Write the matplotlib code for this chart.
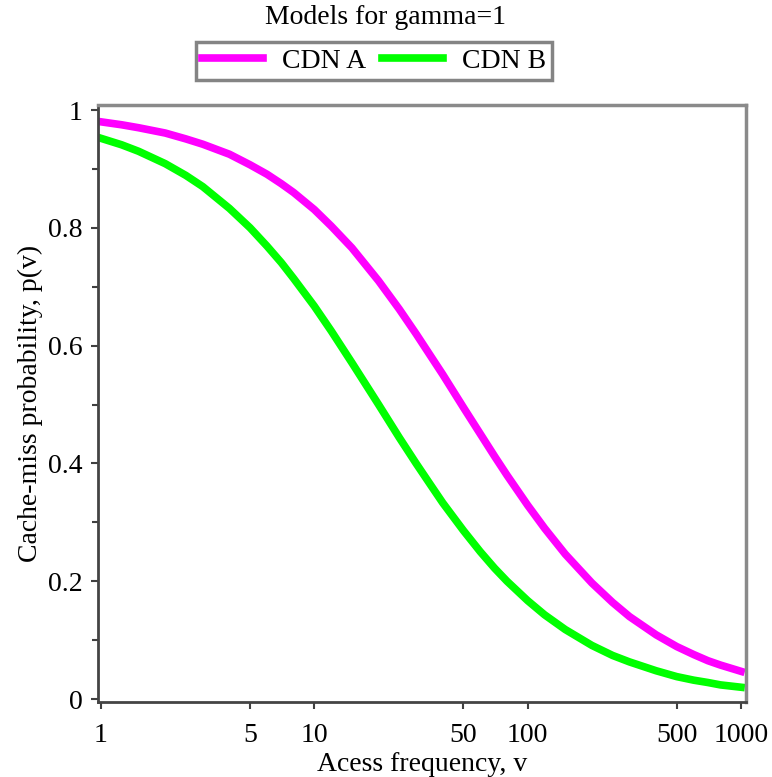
import matplotlib.pyplot as plt
from matplotlib.ticker import FixedLocator, NullLocator

plt.rcParams['font.family'] = ['Liberation Serif', 'DejaVu Serif']

# access frequency samples and miss probability for both CDNs
freq = [1, 1.25, 1.5, 2, 2.5, 3, 4, 5, 6, 7, 8, 10, 12, 15, 20, 25, 30, 35, 40, 50,
        60, 70, 80, 100, 120, 150, 200, 250, 300, 400, 500, 600, 700, 800, 1000]
cdn_a = [0.980, 0.975, 0.970, 0.961, 0.951, 0.942, 0.925, 0.907, 0.891, 0.875, 0.860,
         0.831, 0.803, 0.766, 0.710, 0.662, 0.620, 0.583, 0.551, 0.495, 0.450, 0.412,
         0.380, 0.329, 0.290, 0.246, 0.197, 0.164, 0.140, 0.109, 0.089, 0.0755, 0.065,
         0.0577, 0.047]
cdn_b = [0.952, 0.941, 0.930, 0.909, 0.889, 0.870, 0.833, 0.800, 0.769, 0.741, 0.714,
         0.667, 0.625, 0.571, 0.500, 0.444, 0.400, 0.364, 0.333, 0.286, 0.250, 0.222,
         0.200, 0.167, 0.143, 0.118, 0.091, 0.074, 0.063, 0.048, 0.038, 0.032, 0.028,
         0.024, 0.020]

x_ticks = [1, 5, 10, 50, 100, 500, 1000]
y_ticks = [0, 0.2, 0.4, 0.6, 0.8, 1]
y_labels = ['0', '0.2', '0.4', '0.6', '0.8', '1']

fig = plt.figure(figsize=(7.72, 7.77), dpi=100)
ax = fig.add_axes([0.1269, 0.0965, 0.8394, 0.7683])

ax.plot(freq, cdn_a, color='#ff00ff', lw=5.5, label='CDN A', solid_joinstyle='round')
ax.plot(freq, cdn_b, color='#00ff00', lw=5.5, label='CDN B', solid_joinstyle='round')

ax.set_xscale('log')
ax.set_xlim(0.968, 1055)
ax.set_ylim(-0.0051, 1.0085)

ax.xaxis.set_major_locator(FixedLocator(x_ticks))
ax.xaxis.set_minor_locator(NullLocator())
ax.set_xticklabels([str(t) for t in x_ticks])
ax.set_yticks(y_ticks)
ax.set_yticklabels(y_labels)
ax.yaxis.set_minor_locator(FixedLocator([0.1, 0.3, 0.5, 0.7, 0.9]))

ax.tick_params(axis='both', which='major', direction='out', length=5, width=1.5,
               color='#404040', labelsize=20, pad=6)
ax.tick_params(axis='x', which='major', pad=10)
ax.tick_params(axis='y', which='minor', direction='out', length=4, width=1.5, color='#404040')

for s in ['left', 'bottom']:
    ax.spines[s].set_color('#444444')
    ax.spines[s].set_linewidth(2)
for s in ['top', 'right']:
    ax.spines[s].set_color('#8a8a8a')
    ax.spines[s].set_linewidth(2.5)

ax.set_xlabel('Acess frequency, v', fontsize=20, labelpad=3)
ax.set_ylabel('Cache-miss probability, p(v)', fontsize=20, labelpad=4)

fig.text(0.499, 1 - 18 / 777, 'Models for gamma=1', fontsize=20, ha='center', va='center')
leg = fig.legend(loc='center', bbox_to_anchor=(374 / 772, 1 - 61 / 777), ncol=2,
                 fontsize=20, frameon=True, fancybox=False, handlelength=2.2,
                 handletextpad=0.65, columnspacing=0.6, borderpad=0.22, borderaxespad=0)
leg.get_frame().set_edgecolor('#666666')
leg.get_frame().set_linewidth(2.5)

fig.savefig('out.png', dpi=100)
